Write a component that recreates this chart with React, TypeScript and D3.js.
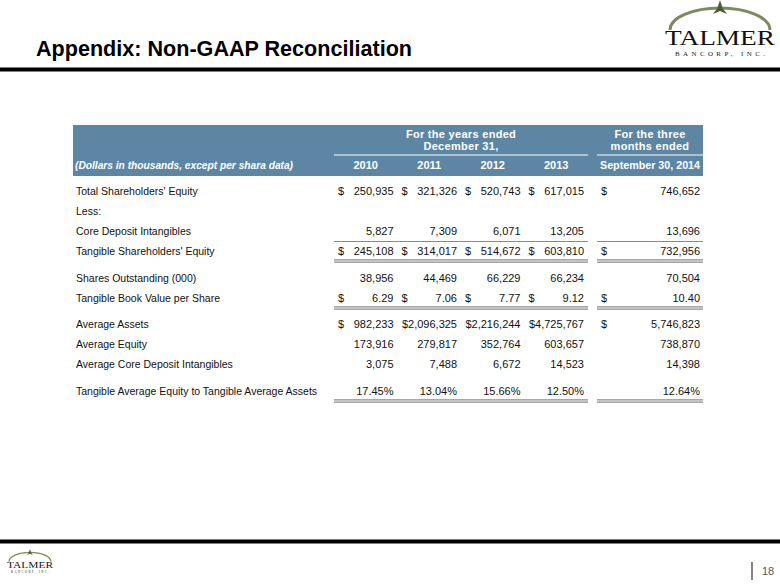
import React from 'react';
import * as d3 from 'd3';

const width = 780;
const height = 585;

// column headers
const yearCols = ['2010', '2011', '2012', '2013'];
const quarterCol = 'September 30, 2014';
const allCols = [...yearCols, quarterCol];

// row labels
const rowLabels = [
  "Total Shareholders' Equity",
  'Less:',
  'Core Deposit Intangibles',
  "Tangible Shareholders' Equity",
  'Shares Outstanding (000)',
  'Tangible Book Value per Share',
  'Average Assets',
  'Average Equity',
  'Average Core Deposit Intangibles',
  'Tangible Average Equity to Tangible Average Assets',
];

// values per row (null = label only), one per column in allCols order
const totalEquity = [250935, 321326, 520743, 617015, 746652];
const coreDeposit = [5827, 7309, 6071, 13205, 13696];
const tangibleEquity = [245108, 314017, 514672, 603810, 732956];
const sharesOut = [38956, 44469, 66229, 66234, 70504];
const bookValue = [6.29, 7.06, 7.77, 9.12, 10.40];
const avgAssets = [982233, 2096325, 2216244, 4725767, 5746823];
const avgEquity = [173916, 279817, 352764, 603657, 738870];
const avgCoreDeposit = [3075, 7488, 6672, 14523, 14398];
const tangibleRatio = [17.45, 13.04, 15.66, 12.50, 12.64];

const rowValues = [
  totalEquity, null, coreDeposit, tangibleEquity, sharesOut,
  bookValue, avgAssets, avgEquity, avgCoreDeposit, tangibleRatio,
];
const rowKind = ['dollar', 'none', 'int', 'dollar', 'int', 'dollar2', 'dollar', 'int', 'int', 'pct'];

// layout: slot of each row (gaps after underlined rows)
const rowSlots = [0, 1, 2, 3, 4.35, 5.35, 6.65, 7.65, 8.65, 10];
const singleAbove = [3];
const doubleBelow = [3, 5, 9];

const fmtInt = d3.format(',');
const fmt2 = d3.format('.2f');

const font = 'Liberation Sans, Arial, sans-serif';
const blue = '#5d86a4';
const ruleGray = '#8a8a8a';

function Logo({ x, y, s }: { x: number; y: number; s: number }) {
  // x = center, y = reference line near top of the arc, s = scale
  const arc = `M${x - 50 * s},${y + 16 * s} A${50 * s} ${22 * s} 0 0 1 ${x + 50 * s},${y + 16 * s}`;
  return (
    <g>
      <path d={arc} fill="none" stroke="#7b8b5d" strokeWidth={3 * s} />
      <path
        d={`M${x},${y - 14 * s} L${x + 2.5 * s},${y - 6 * s} L${x + 7 * s},${y} L${x},${y - 3 * s} L${x - 7 * s},${y} L${x - 2.5 * s},${y - 6 * s} Z`}
        fill="#4a5a3a"
      />
      <text x={x} y={y + 31 * s} textAnchor="middle" fontFamily="Liberation Serif, DejaVu Serif, serif"
        fontSize={22 * s} fill="#111" textLength={110 * s} lengthAdjust="spacingAndGlyphs">TALMER</text>
      <text x={x} y={y + 42 * s} textAnchor="middle" fontFamily="Liberation Serif, DejaVu Serif, serif"
        fontSize={7 * s} fill="#222" textLength={90 * s} lengthAdjust="spacing">BANCORP, INC.</text>
    </g>
  );
}

export default function App() {
  const xYears = d3.scaleBand<string>().domain(yearCols).range([334, 588]);
  const xQuarter = d3.scaleBand<string>().domain([quarterCol]).range([597, 703]);
  const colBand = (i: number) => (i < 4 ? xYears : xQuarter);
  const colStart = (i: number) => colBand(i)(allCols[i]) as number;
  const colEnd = (i: number) => colStart(i) + colBand(i).bandwidth();
  const colMid = (i: number) => colStart(i) + colBand(i).bandwidth() / 2;

  const y = d3.scaleLinear().domain([0, 10]).range([191, 391]);
  const labelX = 76;

  const cell = (v: number, kind: string, i: number, key: string) => {
    const right = colEnd(i) - (i < 4 ? 4 : 3);
    const dollarX = colStart(i) + 7;
    let txt = '';
    let dollar = false;
    if (kind === 'dollar') { txt = fmtInt(v); dollar = true; }
    else if (kind === 'dollar2') { txt = fmt2(v); dollar = true; }
    else if (kind === 'pct') txt = fmt2(v) + '%';
    else txt = fmtInt(v);
    const tight = dollar && i < 4 && v >= 1e6;
    return (
      <g key={key}>
        {dollar && !tight && (
          <text x={dollarX} y={0} textAnchor="middle">$</text>
        )}
        <text x={right} y={0} textAnchor="end">{tight ? '$' + txt : txt}</text>
      </g>
    );
  };

  const rule = (y0: number, dbl: boolean, key: string) => (
    <g key={key} stroke={ruleGray} strokeWidth={1.2}>
      {[0, 1].map((c) => (
        <g key={c}>
          <line x1={c === 0 ? 334 : 597} x2={c === 0 ? 588 : 703} y1={y0} y2={y0} />
          {dbl && <line x1={c === 0 ? 334 : 597} x2={c === 0 ? 588 : 703} y1={y0 + 2.4} y2={y0 + 2.4} />}
        </g>
      ))}
    </g>
  );

  return (
    <svg width={width} height={height} style={{ position: 'absolute', left: 0, top: 0, background: '#fff' }}>
      {/* title bar */}
      <text x={36} y={56} fontFamily="Liberation Sans Narrow, Arial Narrow, Liberation Sans, Arial, sans-serif"
        fontWeight="bold" fontSize={22} fill="#000" textLength={376} lengthAdjust="spacingAndGlyphs">
        Appendix: Non-GAAP Reconciliation
      </text>
      <rect x={0} y={67.5} width={width} height={4} fill="#000" />
      <Logo x={720} y={14} s={1} />

      {/* header band */}
      <rect x={73} y={125} width={630} height={51} fill={blue} />
      <g fontFamily={font} fontSize={11} fontWeight="bold" fill="#fff">
        <g letterSpacing={0.3}>
          <text x={(xYears.range()[0] + xYears.range()[1]) / 2} y={138} textAnchor="middle">For the years ended</text>
          <text x={(xYears.range()[0] + xYears.range()[1]) / 2} y={150} textAnchor="middle">December 31,</text>
          <text x={colMid(4)} y={138} textAnchor="middle">For the three</text>
          <text x={colMid(4)} y={150} textAnchor="middle">months ended</text>
        </g>
        {yearCols.map((c, i) => (
          <text key={c} x={colMid(i)} y={168.5} textAnchor="middle">{c}</text>
        ))}
        <text x={colMid(4)} y={168.5} textAnchor="middle" textLength={100} lengthAdjust="spacingAndGlyphs">{quarterCol}</text>
        <text x={75} y={168.5} fontStyle="italic" textLength={218} lengthAdjust="spacingAndGlyphs">(Dollars in thousands, except per shara data)</text>
      </g>
      <line x1={334} x2={588} y1={155} y2={155} stroke="#fff" strokeWidth={1} />
      <line x1={597} x2={703} y1={155} y2={155} stroke="#fff" strokeWidth={1} />

      {/* body */}
      <g fontFamily={font} fontSize={11} fill="#111">
        {rowLabels.map((label, r) => {
          const cy = y(rowSlots[r]);
          const vals = rowValues[r];
          return (
            <g key={label} transform={`translate(0, ${cy + 4})`}>
              <text x={labelX} y={0} fontSize={10.5}>{label}</text>
              {vals && vals.map((v, i) => cell(v, rowKind[r], i, label + i))}
            </g>
          );
        })}
      </g>
      {singleAbove.map((r) => rule(y(rowSlots[r]) - 9.5, false, 'a' + r))}
      {doubleBelow.map((r) => rule(y(rowSlots[r]) + 8.8, true, 'b' + r))}

      {/* footer */}
      <rect x={0} y={539.5} width={width} height={4} fill="#000" />
      <Logo x={30} y={555} s={0.42} />
      <line x1={752} x2={752} y1={562} y2={580} stroke="#333" strokeWidth={1.2} />
      <text x={762} y={575} fontFamily={font} fontSize={11} fill="#555">18</text>
    </svg>
  );
}
